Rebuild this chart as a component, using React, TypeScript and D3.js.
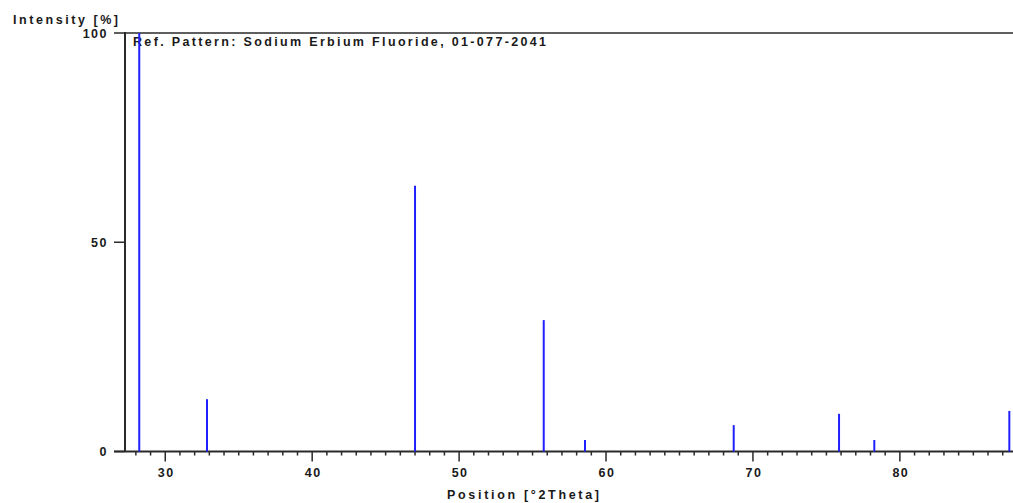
import React from "react";
import * as d3 from "d3";

const positions = [28.23, 32.84, 47.0, 55.76, 58.57, 68.69, 75.86, 78.26, 87.45];
const intensities = [100, 12.5, 63.5, 31.4, 2.75, 6.3, 9.0, 2.75, 9.7];
const yTicks = [0, 50, 100];
const xMajorTicks = [30, 40, 50, 60, 70, 80];
const refLabel = "Ref. Pattern: Sodium Erbium Fluoride, 01-077-2041";
const xTitle = "Position [°2Theta]";
const yTitle = "Intensity [%]";

const W = 1013;
const H = 503;

export default function App() {
  const x = d3.scaleLinear().domain([27.26, 87.7]).range([125, 1013]);
  const y = d3.scaleLinear().domain([0, 100]).range([451.5, 33]);
  const minor = d3.range(28, 88, 1).filter((v) => v % 10 !== 0);
  const axisColor = "#2a2a2a";
  const font = "'Liberation Sans', Arial, sans-serif";
  const textColor = "#1a1a1a";
  return (
    <svg
      width={W}
      height={H}
      style={{ position: "absolute", left: 0, top: 0, background: "#fff" }}
      fontFamily={font}
    >
      <text x={13} y={24} fontSize={12.5} fontWeight={600} fill={textColor} textLength={105} lengthAdjust="spacing">
        {yTitle}
      </text>
      <line x1={x.range()[0]} x2={W} y1={y(100)} y2={y(100)} stroke={axisColor} strokeWidth={1.5} />
      <line x1={125} x2={125} y1={y(100) - 1} y2={y(0)} stroke={axisColor} strokeWidth={2} />
      {yTicks.map((t) => (
        <g key={t}>
          <line x1={114} x2={125} y1={y(t)} y2={y(t)} stroke={axisColor} strokeWidth={1.5} />
          <text
            x={108}
            y={y(t) + 4.5}
            textAnchor="end"
            fontSize={12.5}
            fontWeight={600}
            letterSpacing={1.5}
            fill={textColor}
          >
            {t}
          </text>
        </g>
      ))}
      <line x1={114} x2={W} y1={y(0)} y2={y(0)} stroke={axisColor} strokeWidth={2} />
      {minor.map((v) => (
        <line key={v} x1={x(v)} x2={x(v)} y1={y(0)} y2={y(0) + 4} stroke={axisColor} strokeWidth={1.5} />
      ))}
      {xMajorTicks.map((v) => (
        <g key={v}>
          <line x1={x(v)} x2={x(v)} y1={y(0)} y2={y(0) + 10} stroke={axisColor} strokeWidth={1.5} />
          <text
            x={x(v) + 1}
            y={477}
            textAnchor="middle"
            fontSize={12.5}
            fontWeight={600}
            letterSpacing={1.5}
            fill={textColor}
          >
            {v}
          </text>
        </g>
      ))}
      <text x={447} y={499} fontSize={12.5} fontWeight={600} fill={textColor} textLength={152} lengthAdjust="spacing">
        {xTitle}
      </text>
      <text x={133} y={46} fontSize={12.5} fontWeight={600} fill={textColor} textLength={413} lengthAdjust="spacing">
        {refLabel}
      </text>
      {positions.map((p, i) => (
        <line
          key={i}
          x1={x(p)}
          x2={x(p)}
          y1={y(0)}
          y2={y(intensities[i])}
          stroke="#2020ff"
          strokeWidth={2}
        />
      ))}
    </svg>
  );
}
